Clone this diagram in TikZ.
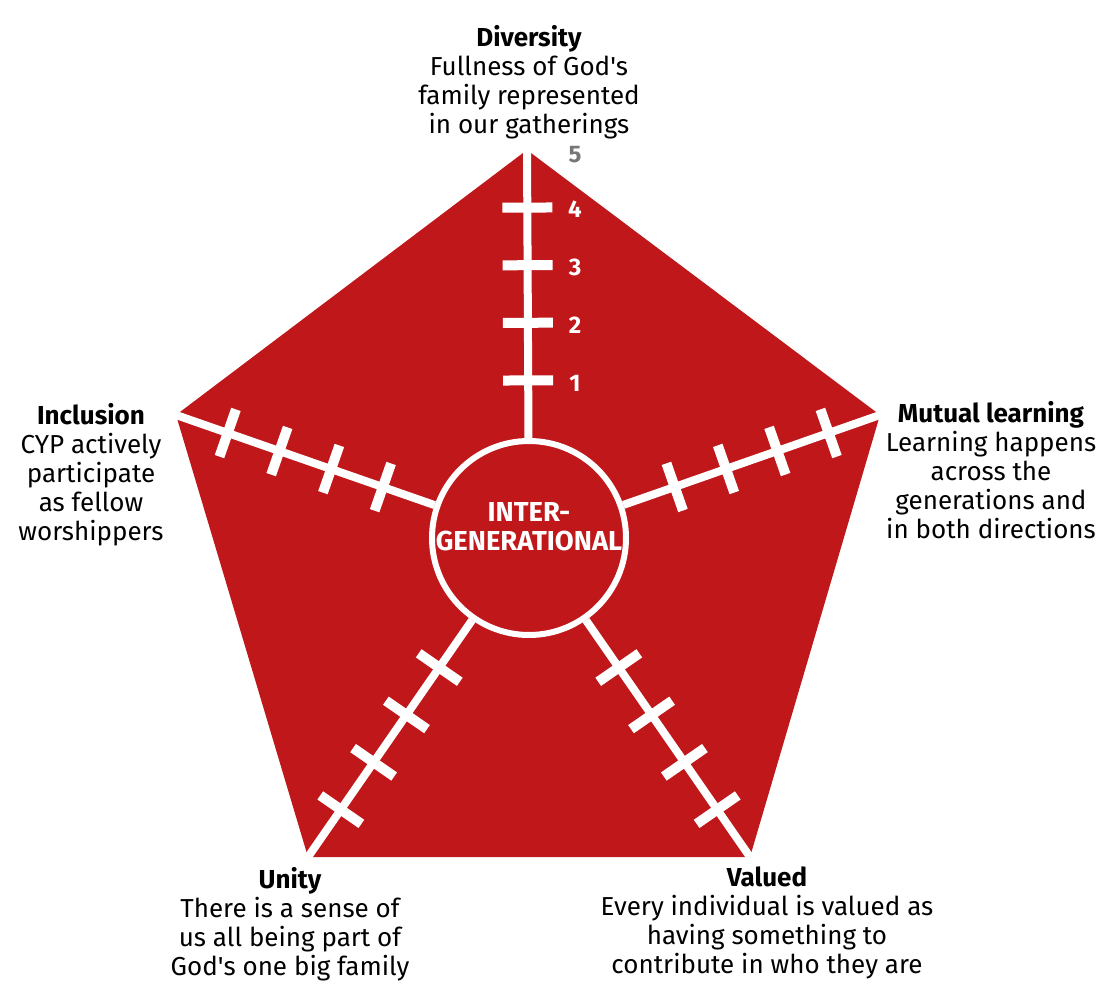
\documentclass[tikz,border=0pt]{standalone}
\usepackage{fontspec}
\setmainfont{Fira Sans}
\usetikzlibrary{calc,positioning}
\definecolor{pent}{HTML}{C0171A}
\definecolor{fivegrey}{HTML}{777777}
\newcommand{\ap}{\textquotesingle}

\begin{document}
\begin{tikzpicture}[
  x=0.5pt, y=-0.5pt,
  spoke/.style={draw=white, line width=4pt},
  tickmark/.style={draw=white, line width=5pt},
  hubstyle/.style={circle, draw=white, line width=3pt, fill=pent, minimum size=97pt, inner sep=0pt},
  hubtext/.style={align=center, text=white, inner sep=0pt, font=\bfseries\fontsize{13.7}{14.5}\selectfont},
  lbl/.style={align=center, inner sep=0pt, font=\fontsize{13}{14.5}\selectfont},
  num/.style={font=\bfseries\fontsize{12}{12}\selectfont, text=white, inner sep=0pt},
]
\useasboundingbox (0,0) rectangle (1097,989);
% Pentagon corners (picture in pixel units, y downwards)
\coordinate (vdiv) at (527,150);
\coordinate (vmut) at (880,415);
\coordinate (vval) at (750,857);
\coordinate (vuni) at (308,857);
\coordinate (vinc) at (176,415);

% --- Pentagon and hub -------------------------------------------------------
\fill[pent] (vdiv) -- (vmut) -- (vval) -- (vuni) -- (vinc) -- cycle;
\node[hubstyle] (hub) at (529,538) {};
\node[hubtext] (hublbl) at (529,527) {INTER-\\GENERATIONAL};

% --- Spokes with scale marks 1..4 (5 is the corner) -------------------------
\foreach \v in {vdiv,vmut,vval,vuni,vinc} {
  \draw[spoke] (hub) -- (\v);
  \coordinate (\v-in) at ($(hub.center)!50pt!(\v)$);
  \foreach \f in {0.2,0.4,0.6,0.8} {
    \coordinate (t) at ($(\v-in)!\f!(\v)$);
    \draw[tickmark] ($(t)!12.5pt!90:(\v)$) -- ($(t)!12.5pt!-90:(\v)$);
  }
}
\foreach \n/\y in {1/383,2/325,3/267,4/209}
  \node[num] (num\n) at (575,\y) {\n};
\node[num, text=fivegrey] (num5) at (575,155) {5};

% --- Labels round the pentagon ----------------------------------------------
\node[lbl] (ldiv) at (529,82) {\textbf{Diversity}\\Fullness of God\ap s\\family represented\\in our gatherings};
\node[lbl] (lmut) at (991,470) {\textbf{Mutual learning}\\Learning happens\\across the\\generations and\\in both directions};
\node[lbl] (linc) at (91,475) {\textbf{Inclusion}\\CYP actively\\participate\\as fellow\\worshippers};
\node[lbl] (luni) at (290,924) {\textbf{Unity}\\There is a sense of\\us all being part of\\God\ap s one big family};
\node[lbl] (lval) at (767,923) {\textbf{Valued}\\Every individual is valued as\\having something to\\contribute in who they are};
\end{tikzpicture}
\end{document}
